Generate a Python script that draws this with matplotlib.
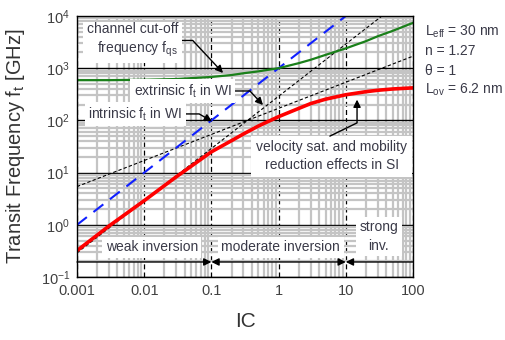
import matplotlib
matplotlib.use('Agg')
import matplotlib.pyplot as plt
from matplotlib.ticker import LogLocator, NullFormatter, FixedLocator, FixedFormatter

plt.rcParams['font.family'] = ['Liberation Sans', 'DejaVu Sans']
plt.rcParams['mathtext.fontset'] = 'custom'
plt.rcParams['mathtext.rm'] = 'Liberation Sans'
plt.rcParams['mathtext.it'] = 'Liberation Sans:italic'
plt.rcParams['mathtext.bf'] = 'Liberation Sans:bold'
plt.rcParams['axes.unicode_minus'] = False

# values (IC vs ft in GHz)
ic = [0.001, 0.003, 0.01, 0.03, 0.1, 0.2, 0.3, 0.5, 1, 2, 3, 5, 10, 20, 30, 50, 100]
ft_red = [0.32, 0.95, 2.9, 8.3, 25, 41, 55, 78, 118, 170, 210, 255, 310, 355, 378, 400, 420]
ft_fqs = [590, 590, 600, 620, 680, 740, 800, 870, 1000, 1250, 1450, 1800, 2400, 3300, 4100, 5200, 7400]

ic_intr = [0.001, 10]
ft_intr = [1.0, 10000.0]

ic_ext = [0.001, 100]
ft_ext_sqrt = [5.4, 1700]
ft_ext_lin = [0.29, 29000]

ic_ticks = [0.001, 0.01, 0.1, 1, 10, 100]
ic_labels = ['0.001', '0.01', '0.1', '1', '10', '100']
ic_bounds = [0.001, 0.1, 10, 100]

txt = '#3a3a48'

fig = plt.figure(figsize=(5.05, 3.4), dpi=100)
ax = fig.add_axes([77/505, 1-277/340, 336/505, 261/340])
ax.set_xscale('log')
ax.set_yscale('log')
ax.set_xlim(0.001, 100)
ax.set_ylim(0.1, 10000)

ax.xaxis.set_major_locator(FixedLocator(ic_ticks))
ax.xaxis.set_major_formatter(FixedFormatter(ic_labels))
ax.xaxis.set_minor_locator(LogLocator(base=10, subs=range(2, 10)))
ax.xaxis.set_minor_formatter(NullFormatter())
ax.yaxis.set_major_locator(LogLocator(base=10, numticks=10))
ax.yaxis.set_minor_locator(LogLocator(base=10, subs=range(2, 10), numticks=20))
ax.yaxis.set_minor_formatter(NullFormatter())

ax.grid(which='minor', color='#c4c4c4', lw=1.6, ls='-')
ax.yaxis.grid(which='major', color='black', lw=1.0, ls='-')
ax.xaxis.grid(which='major', color='black', lw=0.9, ls=(0, (4, 2.5)))
ax.tick_params(which='both', length=0, labelsize=10.5, colors='#404040', pad=5)
for s in ax.spines.values():
    s.set_color('black')
    s.set_linewidth(1.0)

ax.plot(ic_ext, ft_ext_sqrt, color='black', lw=0.8, ls=(0, (3, 2)))
ax.plot(ic_ext, ft_ext_lin, color='black', lw=0.8, ls=(0, (3, 2)))
ax.plot(ic_intr, ft_intr, color='#1020ff', lw=1.5, ls=(0, (6, 4)))
ax.plot(ic, ft_fqs, color='#1a801a', lw=1.6)
ax.plot(ic, ft_red, color='#ff0000', lw=2.6)

ax.set_xlabel('IC', fontsize=15, color='#333333', labelpad=10)
ax.set_ylabel('Transit Frequency f$_\\mathrm{t}$ [GHz]', fontsize=14.5, color='#333333', labelpad=10)

box = dict(boxstyle='square,pad=0.25', fc='white', ec='none')
arr = dict(arrowstyle='-|>', color='black', lw=1.0, mutation_scale=11, shrinkA=0, shrinkB=0)

a = dict(arr)
a['connectionstyle'] = 'angle,angleA=0,angleB=-47,rad=0'
ax.annotate('channel cut-off\nfrequency f$_\\mathrm{qs}$', xy=(0.149, 810), xytext=(0.032, 3400),
            ha='right', va='center', multialignment='right', fontsize=10, color=txt,
            bbox=box, arrowprops=a, linespacing=1.3)

a = dict(arr)
a['connectionstyle'] = 'angle,angleA=0,angleB=-47,rad=0'
ax.annotate('extrinsic f$_\\mathrm{t}$ in WI', xy=(0.586, 197), xytext=(0.2, 366),
            ha='right', va='center', fontsize=10, color=txt, bbox=box, arrowprops=a)

a = dict(arr)
a['connectionstyle'] = 'angle,angleA=0,angleB=-30,rad=0'
ax.annotate('intrinsic f$_\\mathrm{t}$ in WI', xy=(0.102, 96), xytext=(0.037, 133),
            ha='right', va='center', fontsize=10, color=txt, bbox=box, arrowprops=a)

ax.text(6.2, 20.5, 'velocity sat. and mobility\nreduction effects in SI', ha='center', va='center',
        fontsize=10, color=txt, bbox=dict(boxstyle='square,pad=0.35', fc='white', ec='none'),
        linespacing=1.35)
a = dict(arr)
a['connectionstyle'] = 'angle,angleA=26,angleB=90,rad=0'
ax.annotate('', xy=(14.7, 250), xytext=(5.8, 50), arrowprops=a)

# inversion regions
yb = 0.194
ax.annotate('', xy=(ic_bounds[1], yb), xytext=(ic_bounds[0], yb), arrowprops=arr)
a = dict(arr)
a['arrowstyle'] = '<|-|>'
ax.annotate('', xy=(ic_bounds[2], yb), xytext=(ic_bounds[1], yb), arrowprops=a)
ax.annotate('', xy=(ic_bounds[2], yb), xytext=(ic_bounds[3], yb), arrowprops=arr)

ax.text(0.013, 0.375, 'weak inversion', ha='center', va='center', fontsize=10, color=txt, bbox=box)
ax.text(1.08, 0.375, 'moderate inversion', ha='center', va='center', fontsize=10, color=txt, bbox=box)
ax.text(31, 0.6, 'strong\ninv.', ha='center', va='center', fontsize=10, color=txt, bbox=box,
        linespacing=1.4)

params = ['L$_\\mathrm{eff}$ = 30 nm', 'n = 1.27', '\u03b8 = 1', 'L$_\\mathrm{ov}$ = 6.2 nm']
for i, p in enumerate(params):
    fig.text(425/505, 1 - (32 + 19.3*i)/340, p, ha='left', va='center', fontsize=10, color=txt)

fig.savefig('out.png', dpi=100)
